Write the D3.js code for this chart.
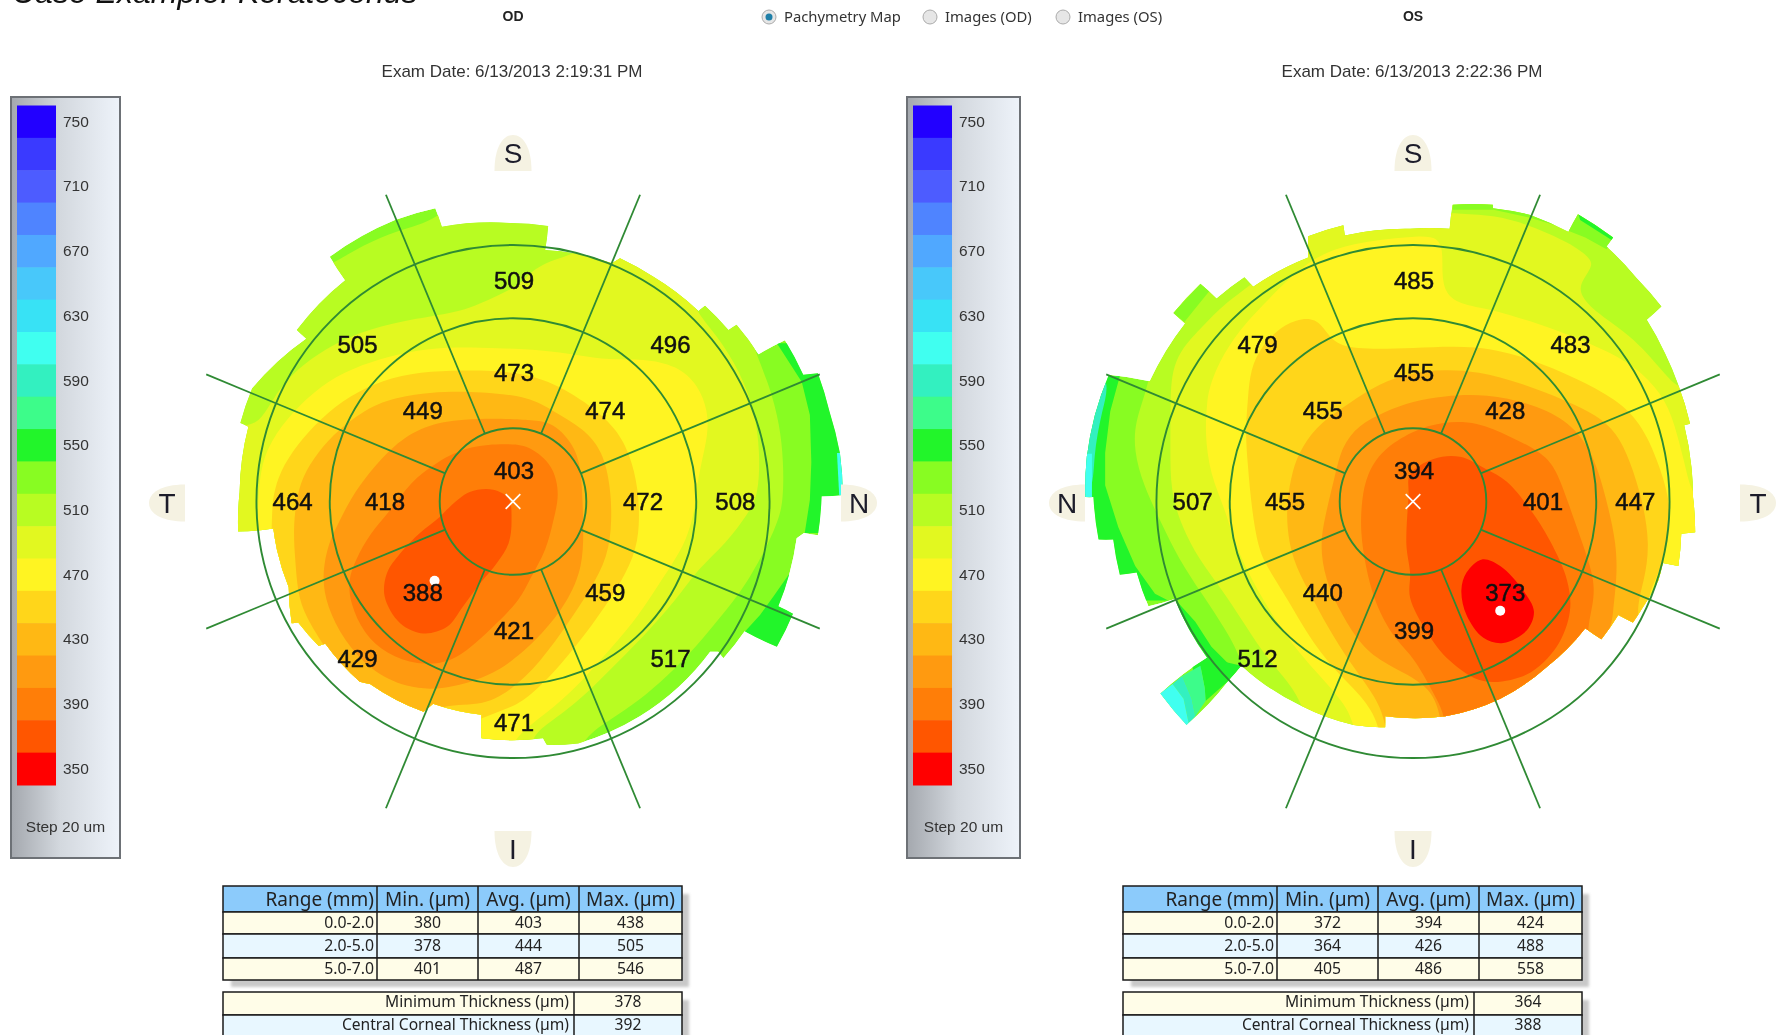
<!DOCTYPE html>
<html>
<head>
<meta charset="utf-8">
<script src="https://cdn.jsdelivr.net/npm/d3@7"></script>
<style>
  html, body { margin: 0; padding: 0; background: #fff; overflow: hidden; }
  svg { display: block; font-family: "Liberation Sans", Arial, sans-serif; filter: blur(0.55px); }
  .tbl text { font-family: "Noto Sans", sans-serif; fill: #222; }
</style>
</head>
<body>
<div id="chart"></div>
<script>
// thickness legend, top to bottom
var levels = [750,730,710,690,670,650,630,610,590,570,550,530,510,490,470,450,430,410,390,370,350];
var levelColors = ["#2200ff","#3a3aff","#4d5cff","#4f84ff","#50a8ff","#48c8fa","#38e2f5","#40fff0","#33f0c0","#3dfc8a","#22f52a","#88fc22","#b8fc22","#e2f820","#fff422","#ffd61a","#ffb814","#ff9a10","#ff7e08","#ff5600","#ff0000"];
var levelTicks = [750,710,670,630,590,550,510,470,430,390,350];

// sector values, clockwise from superior
var odCenter = 403;
var odMiddle = [473,474,472,459,421,388,418,449];
var odOuter  = [509,496,508,517,471,429,464,505];
var osCenter = 394;
var osMiddle = [455,428,401,373,399,440,455,455];
var osOuter  = [485,483,447,null,null,512,507,479];

// lowest point, mm from apex
var odMin = [-1.07,-1.08];
var osMin = [1.19,-1.49];

var tableHead = ["Range (mm)","Min. (µm)","Avg. (µm)","Max. (µm)"];
var ranges = ["0.0-2.0","2.0-5.0","5.0-7.0"];
var odTable = [[380,403,438],[378,444,505],[401,487,546]];
var osTable = [[372,394,424],[364,426,488],[405,486,558]];
var summaryNames = ["Minimum Thickness (µm)","Central Corneal Thickness (µm)"];
var odSummary = [378,392];
var osSummary = [364,388];

// measured edge of the map, [x mm, y mm], clockwise
var odEdge = [[-0.04,3.80],[0.48,3.76],[0.44,3.43],[0.87,3.38],[1.35,3.25],[1.46,3.32],[1.91,3.07],[2.53,2.60],[2.62,2.67],[2.94,2.34],[3.05,2.41],[3.35,2.01],[3.71,2.20],[3.96,1.73],[4.16,1.75],[4.32,1.22],[4.46,0.66],[4.50,0.09],[4.21,0.07],[4.16,-0.46],[3.97,-0.43],[3.87,-0.50],[3.62,-1.43],[3.82,-1.53],[3.60,-1.98],[3.16,-1.77],[2.87,-2.14],[2.80,-2.05],[2.69,-2.05],[1.73,-2.93],[0.89,-3.30],[0.46,-3.32],[0.41,-3.23],[-0.43,-3.23],[-0.43,-2.91],[-1.09,-2.76],[-1.22,-2.87],[-1.95,-2.49],[-2.09,-2.46],[-2.56,-1.94],[-2.65,-1.97],[-2.93,-1.65],[-3.02,-1.66],[-3.06,-1.17],[-3.22,-0.66],[-3.27,-0.37],[-3.75,-0.41],[-3.73,0.13],[-3.61,1.02],[-3.72,1.07],[-3.56,1.54],[-2.82,2.22],[-2.95,2.34],[-2.29,3.02],[-2.50,3.34],[-1.61,3.84],[-1.06,4.00],[-0.97,3.75]];
var osEdge = [[-0.04,3.72],[0.50,3.72],[0.54,4.05],[1.09,4.05],[1.09,4.00],[1.60,3.91],[2.12,3.68],[2.25,3.92],[2.73,3.60],[2.64,3.48],[3.05,3.05],[3.39,2.66],[3.19,2.48],[3.44,2.02],[3.62,1.59],[3.78,1.06],[3.70,1.04],[3.80,0.46],[3.82,0.06],[3.85,-0.42],[3.66,-0.44],[3.62,-0.88],[3.41,-0.84],[3.35,-1.07],[3.10,-1.50],[3.00,-1.65],[2.80,-1.55],[2.57,-1.88],[2.35,-1.73],[1.82,-2.26],[1.19,-2.69],[0.44,-2.93],[-0.38,-2.93],[-0.38,-3.08],[-0.45,-3.08],[-0.81,-3.05],[-1.52,-2.79],[-2.34,-2.24],[-2.52,-2.45],[-3.09,-3.05],[-3.45,-2.62],[-2.81,-2.13],[-3.25,-1.33],[-3.61,-1.43],[-3.77,-0.97],[-4.00,-1.00],[-4.09,-0.52],[-4.29,-0.52],[-4.36,0.06],[-4.47,0.06],[-4.45,0.61],[-4.34,1.18],[-4.15,1.73],[-3.59,1.64],[-3.11,2.43],[-3.27,2.57],[-2.90,2.97],[-2.68,2.77],[-2.30,3.06],[-2.18,2.93],[-1.43,3.33],[-1.43,3.62],[-0.95,3.77],[-0.93,3.63]];

// OD contours in mm. Each holds everything at or under its level
var od610a = [[4.42,0.66],[4.7,0.66],[4.7,0.09],[4.45,0.09]];
var od550a = [[3.60,2.16],[3.94,1.63],[4.05,1.18],[4.07,0.54],[4.05,0.02],[3.98,-0.43],[4.7,-0.43],[4.7,2.16]];
var od550b = [[3.14,-1.80],[3.37,-1.55],[3.55,-1.30],[3.76,-1.00],[4.05,-1.00],[4.05,-2.02],[3.60,-2.07]];
var od510 = [[-4.3,1.9],[-2.6,3.2],[-2.45,3.25],[-2.04,3.50],[-1.59,3.70],[-1.02,3.83],[-0.5,4.4],[1.5,4.4],[2.9,3.2],[3.32,2.00],[3.50,1.58],[3.64,1.05],[3.69,0.55],[3.69,0],[3.60,-0.34],[3.23,-1.07],[2.87,-1.53],[2.50,-1.98],[2.10,-2.39],[1.73,-2.71],[1.32,-2.98],[0.91,-3.25],[0.8,-3.8],[-4.3,-3.8]];
var od490 = [[-4.3,1.0],[-3.65,1.02],[-3.45,1.09],[-3.27,1.41],[-3.00,1.77],[-2.50,2.13],[-1.95,2.36],[-1.31,2.50],[-0.72,2.59],[-0.40,2.72],[0.10,2.95],[0.23,3.13],[0.50,3.29],[0.87,3.38],[1.4,3.7],[2.2,3.2],[2.48,2.61],[2.78,2.27],[3.10,1.77],[3.30,1.22],[3.37,0.68],[3.35,0.09],[3.21,-0.16],[2.91,-0.57],[2.51,-0.93],[2.23,-1.34],[1.78,-1.84],[1.32,-2.30],[0.87,-2.75],[0.41,-3.07],[0.23,-3.25],[0.2,-3.8],[-4.3,-3.8]];
var od470 = [[-3.50,-0.6],[-3.47,0.32],[-3.36,0.73],[-3.09,1.13],[-2.72,1.50],[-2.31,1.77],[-1.81,1.95],[-1.31,2.07],[-0.77,2.11],[-0.22,2.09],[0.41,2.07],[0.87,2.00],[1.32,1.93],[1.78,1.95],[2.23,1.86],[2.53,1.59],[2.66,1.23],[2.66,0.91],[2.57,0.54],[2.49,0.09],[2.48,-0.12],[2.37,-0.52],[2.18,-0.84],[1.91,-1.25],[1.64,-1.66],[1.23,-2.12],[0.87,-2.53],[0.46,-2.89],[-0.04,-3.25],[-0.1,-3.7],[-3.5,-3.7]];
var od450 = [[-3.3,-3.2],[-3.3,-0.2],[-3.27,0.09],[-3.18,0.41],[-2.95,0.77],[-2.63,1.13],[-2.22,1.45],[-1.77,1.66],[-1.27,1.77],[-0.68,1.79],[-0.22,1.79],[0.41,1.70],[1.00,1.36],[1.41,1.00],[1.60,0.63],[1.71,0.18],[1.73,-0.34],[1.66,-0.75],[1.41,-1.21],[1.10,-1.66],[0.64,-2.25],[0.23,-2.66],[-0.04,-2.82],[-0.43,-2.95],[-1,-3.2]];
var od430 = [[-3.00,-0.39],[-2.95,0.09],[-2.84,0.41],[-2.59,0.77],[-2.31,1.04],[-1.86,1.36],[-1.31,1.47],[-0.95,1.50],[-0.45,1.50],[0.23,1.43],[0.55,1.23],[0.96,1.00],[1.23,0.68],[1.33,0.2],[1.35,-0.25],[1.30,-0.75],[1.05,-1.21],[0.78,-1.62],[0.37,-2.20],[-0.04,-2.59],[-0.45,-2.80],[-1.04,-2.75],[-1.3,-3.1],[-2.0,-2.8],[-2.61,-1.93],[-2.77,-1.66],[-2.93,-1.34],[-2.97,-0.80]];
var od410 = [[-2.52,-0.57],[-2.40,-0.34],[-2.22,0.04],[-1.95,0.41],[-1.63,0.77],[-1.22,1.04],[-0.68,1.13],[-0.04,1.13],[0.23,1.11],[0.55,1.09],[0.87,0.73],[0.94,0.32],[0.96,-0.30],[0.96,-0.89],[0.73,-1.39],[0.41,-1.80],[-0.04,-2.21],[-0.40,-2.41],[-0.95,-2.57],[-1.45,-2.55],[-1.95,-2.30],[-2.31,-1.89],[-2.54,-1.43],[-2.61,-1.02]];
var od390 = [[-2.25,-1.07],[-2.15,-0.80],[-1.95,-0.43],[-1.68,-0.14],[-1.40,0.27],[-1.04,0.54],[-0.59,0.77],[0,0.79],[0.23,0.75],[0.55,0.50],[0.64,0.09],[0.55,-0.25],[0.46,-0.66],[0.23,-1.05],[0.10,-1.34],[-0.22,-1.66],[-0.50,-1.93],[-0.86,-2.21],[-1.31,-2.23],[-1.72,-2.09],[-2.04,-1.80],[-2.22,-1.39]];
var od370 = [[-0.86,-0.07],[-0.59,0.13],[-0.27,0.16],[-0.06,0.04],[-0.02,-0.25],[-0.06,-0.57],[-0.22,-0.84],[-0.45,-1.12],[-0.68,-1.43],[-0.90,-1.71],[-1.22,-1.80],[-1.54,-1.66],[-1.75,-1.30],[-1.72,-0.98],[-1.54,-0.71],[-1.27,-0.43],[-1.00,-0.21]];

// OS contours
var os550a = [[-4.00,1.71],[-4.13,1.23],[-4.20,0.66],[-4.20,0.22],[-4.02,-0.35],[-3.79,-0.88],[-3.52,-1.26],[-3.34,-1.35],[-4.8,-1.35],[-4.8,1.71]];
var os590a = [[-4.36,0.06],[-4.36,0.61],[-4.25,1.23],[-4.09,1.75],[-4.7,1.9],[-4.7,0.06]];
var os610a = [[-4.7,0.06],[-4.38,0.06],[-4.38,0.65],[-4.7,0.65]];
var os550d = [[-3.25,-1.33],[-2.97,-1.64],[-2.75,-1.98],[-2.47,-2.26],[-3.0,-2.3]];
var os550b = [[-2.90,-2.24],[-2.81,-2.13],[-2.34,-2.24],[-2.52,-2.45],[-2.83,-2.72],[-2.84,-2.55]];
var os570b = [[-3.15,-2.38],[-2.90,-2.24],[-2.84,-2.55],[-2.83,-2.72],[-2.97,-2.93],[-3.02,-2.69]];
var os590b = [[-3.28,-2.49],[-3.15,-2.38],[-3.02,-2.69],[-2.97,-2.93],[-3.06,-3.03],[-3.13,-2.69]];
var os610b = [[-3.45,-2.62],[-3.28,-2.49],[-3.13,-2.69],[-3.06,-3.03],[-3.09,-3.08]];
var os510 = [[-3.65,1.47],[-3.55,1.9],[-3.4,2.6],[-2.6,3.6],[-1.0,4.3],[4.6,4.3],[4.6,-3.8],[-1.9,-3.8],[-2.29,-2.22],[-2.56,-1.74],[-2.88,-1.26],[-3.20,-0.78],[-3.43,-0.30],[-3.68,0.22],[-3.81,0.70],[-3.79,1.09]];
var os530a = [[2.10,3.70],[2.25,3.95],[2.80,3.62],[2.64,3.44],[2.35,3.60]];
var os550c = [[2.25,3.95],[2.78,3.66],[2.72,3.56],[2.28,3.84]];
var os530b = [[-3.27,2.57],[-2.90,2.97],[-2.78,2.87],[-3.12,2.45]];
var os530c = [[0.54,4.1],[1.1,4.1],[1.6,3.95],[2.1,3.72],[1.6,3.87],[1.1,3.98],[0.54,3.98]];
var os490 = [[-3.31,0.75],[-3.31,1.33],[-3.29,1.95],[-2.88,2.38],[-2.56,2.71],[-2.15,3.00],[-1.43,3.57],[-1.43,3.8],[0.4,3.95],[0.55,3.93],[1.10,3.91],[1.60,3.77],[2.14,3.53],[2.44,3.31],[2.44,3.19],[2.28,2.98],[2.28,2.81],[2.51,2.57],[2.87,2.33],[3.14,2.09],[3.46,1.71],[3.64,1.52],[4.3,1.4],[4.3,-3.8],[-1.3,-3.5],[-1.52,-2.65],[-1.93,-2.22],[-2.20,-1.83],[-2.56,-1.26],[-2.93,-0.78],[-3.15,-0.35],[-3.31,0.13]];
var os470 = [[-2.81,1.33],[-2.79,1.52],[-2.65,1.90],[-2.38,2.33],[-2.02,2.71],[-1.43,3.31],[-0.84,3.53],[0,3.62],[0.37,3.62],[0.41,3.34],[0.39,2.95],[0.55,2.71],[0.96,2.64],[1.42,2.52],[2.05,2.31],[2.69,2.04],[3.14,1.76],[3.46,1.37],[3.60,0.94],[3.73,0.42],[3.82,0.03],[4.3,-0.3],[4.3,-3.8],[-0.7,-3.8],[-0.79,-2.98],[-1.02,-2.65],[-1.47,-2.17],[-1.84,-1.69],[-2.20,-1.07],[-2.43,-0.59],[-2.56,-0.11],[-2.77,0.37],[-2.84,0.94]];
var os450 = [[-2.25,1.42],[-2.22,1.80],[-2.06,2.14],[-1.75,2.43],[-1.43,2.52],[-1.25,2.43],[-1.11,2.19],[-0.84,2.07],[0,2.09],[0.87,2.14],[1.60,1.95],[2.23,1.68],[2.77,1.40],[3.14,1.04],[3.39,0.42],[3.53,-0.11],[3.48,-0.59],[3.32,-1.07],[3.14,-1.40],[3.5,-2.0],[1,-3.8],[-0.4,-3.6],[-0.45,-3.03],[-0.70,-2.65],[-1.11,-2.26],[-1.43,-1.83],[-1.70,-1.35],[-2.00,-0.88],[-2.11,-0.64],[-2.20,-0.11],[-2.25,0.46],[-2.29,0.94]];
var os430 = [[-1.65,0.42],[-1.52,0.75],[-1.25,1.09],[-0.88,1.33],[-0.47,1.61],[0,1.76],[0.41,1.80],[0.87,1.78],[1.50,1.61],[2.10,1.37],[2.50,1.18],[2.78,0.94],[2.96,0.56],[3.14,-0.01],[3.23,-0.59],[3.16,-1.07],[3.00,-1.59],[3.3,-2.3],[1,-3.8],[-0.3,-3.6],[-0.38,-2.93],[-0.56,-2.60],[-0.88,-2.17],[-1.15,-1.74],[-1.43,-1.21],[-1.65,-0.78],[-1.72,-0.35],[-1.72,-0.01]];
var os410 = [[-1.06,0.37],[-0.97,0.75],[-0.75,1.04],[-0.38,1.23],[0,1.37],[0.41,1.44],[1.00,1.47],[1.64,1.33],[2.14,1.09],[2.46,0.66],[2.64,0.03],[2.78,-0.59],[2.78,-1.07],[2.73,-1.45],[2.69,-2.0],[1,-3.8],[0.45,-3.6],[0.39,-2.93],[0.23,-2.50],[-0.38,-2.22],[-0.70,-1.98],[-0.97,-1.55],[-1.20,-1.07],[-1.27,-0.59],[-1.20,-0.20]];
var os390 = [[-0.70,0.03],[-0.63,0.37],[-0.43,0.70],[0,0.97],[0.41,1.09],[0.87,1.09],[1.32,0.89],[1.78,0.66],[1.96,0.42],[2.10,0.03],[2.32,-0.59],[2.48,-1.07],[2.46,-1.40],[2.37,-1.74],[2.4,-2.3],[1.3,-3.2],[0.44,-3.3],[0.44,-2.93],[0.32,-2.69],[0.14,-2.36],[0,-2.12],[-0.25,-1.88],[-0.52,-1.40],[-0.65,-0.88],[-0.72,-0.40]];
var os370 = [[-0.04,0.37],[0.28,0.58],[0.64,0.61],[1.00,0.44],[1.28,0.27],[1.60,-0.11],[1.87,-0.54],[2.10,-1.07],[2.14,-1.50],[1.96,-1.98],[1.55,-2.36],[0.96,-2.45],[0.50,-2.17],[0.19,-1.78],[-0.04,-1.31],[-0.04,-0.97],[-0.09,-0.59],[-0.06,0.08]];
var os350 = [[0.94,-0.79],[1.19,-0.88],[1.50,-1.21],[1.65,-1.50],[1.55,-1.76],[1.23,-1.93],[0.96,-1.86],[0.73,-1.55],[0.66,-1.21],[0.73,-0.97]];

var W = 1779, H = 1035;
var MM = 73.3;  // px per mm on the map

var svg = d3.select("#chart").append("svg").attr("width", W).attr("height", H);
var defs = svg.append("defs");

var color = d3.scaleOrdinal().domain(levels).range(levelColors);

// gradient of the legend panel
var grad = defs.append("linearGradient").attr("id", "panelFill");
grad.append("stop").attr("offset", "0%").attr("stop-color", "#a4a8ae");
grad.append("stop").attr("offset", "45%").attr("stop-color", "#d3d8de");
grad.append("stop").attr("offset", "100%").attr("stop-color", "#eef3fa");

// page furniture
svg.append("text").attr("x", 12).attr("y", 3)
    .style("font-size", "32px").style("font-style", "italic").style("fill", "#111")
    .text("Case Example: Keratoconus");

var radios = [
  {label: "Pachymetry Map", cx: 769, on: true},
  {label: "Images (OD)", cx: 930, on: false},
  {label: "Images (OS)", cx: 1063, on: false}
];
radios.forEach(function(r) {
  svg.append("circle").attr("cx", r.cx).attr("cy", 17).attr("r", 7)
      .style("fill", "#e6e6e6").style("stroke", "#aaa");
  if (r.on) svg.append("circle").attr("cx", r.cx).attr("cy", 17).attr("r", 3.5).style("fill", "#1f7fa8");
  svg.append("text").attr("x", r.cx + 15).attr("y", 22)
      .style("font-family", "'Noto Sans'").style("font-size", "14.8px").style("fill", "#333")
      .text(r.label);
});

function drawLegend(x0, x1) {
  var g = svg.append("g");
  g.append("rect").attr("x", x0).attr("y", 97).attr("width", x1 - x0).attr("height", 761)
      .style("fill", "url(#panelFill)").style("stroke", "#6d7176").style("stroke-width", 2);

  var band = d3.scaleBand().domain(levels).range([105.5, 785]);
  g.selectAll("rect.swatch").data(levels).enter().append("rect")
      .attr("class", "swatch")
      .attr("x", x0 + 6).attr("width", 39)
      .attr("y", function(d) { return band(d); })
      .attr("height", band.bandwidth() + 0.5)
      .style("fill", function(d) { return color(d); });

  var axis = g.append("g").attr("transform", "translate(" + (x0 + 45) + ",0)")
      .call(d3.axisRight(band).tickValues(levelTicks).tickSize(0).tickPadding(7));
  axis.select(".domain").remove();
  axis.selectAll("text").style("font-family", "'Liberation Sans'").style("font-size", "15.5px").style("fill", "#333");

  g.append("text").attr("x", (x0 + x1) / 2).attr("y", 832).attr("text-anchor", "middle")
      .style("font-size", "15.5px").style("fill", "#333").text("Step 20 um");
}

// tab behind a direction letter; side is where the round end points
function drawTab(g, x, y, side, letter) {
  var rot = {S: 0, N: 90, I: 180, T: 270}[side];
  g.append("path")
      .attr("transform", "translate(" + x + "," + y + ") rotate(" + rot + ")")
      .attr("d", "M-18.5,18 C-18.5,-6 -10,-18 0,-18 C10,-18 18.5,-6 18.5,18 Z")
      .style("fill", "#f5f2e2");
  g.append("text").attr("x", x).attr("y", y + 10).attr("text-anchor", "middle")
      .style("font-size", "28px").style("fill", "#1c1c2a").text(letter);
}

function drawEye(opt) {
  var x = d3.scaleLinear().domain([-1, 1]).range([opt.cx - MM, opt.cx + MM]);
  var y = d3.scaleLinear().domain([-1, 1]).range([opt.cy + MM, opt.cy - MM]);
  var r = d3.scaleLinear().domain([0, 1]).range([0, MM]);

  var smooth = d3.line().x(function(d) { return x(d[0]); }).y(function(d) { return y(d[1]); })
      .curve(d3.curveBasisClosed);
  var tight = d3.line().x(function(d) { return x(d[0]); }).y(function(d) { return y(d[1]); })
      .curve(d3.curveCatmullRomClosed.alpha(0.5));
  var flat = d3.line().x(function(d) { return x(d[0]); }).y(function(d) { return y(d[1]); })
      .curve(d3.curveLinearClosed);

  // map edge: each step runs as an arc about the apex
  function edgePath(pts) {
    var s = "M" + x(pts[0][0]) + "," + y(pts[0][1]);
    pts.concat([pts[0]]).slice(1).forEach(function(d, i) {
      var prev = pts[i];
      var rad = r((Math.hypot(d[0], d[1]) + Math.hypot(prev[0], prev[1])) / 2);
      s += "A" + rad + "," + rad + " 0 0 1 " + x(d[0]) + "," + y(d[1]);
    });
    return s + "Z";
  }

  var g = svg.append("g");

  defs.append("clipPath").attr("id", opt.id + "Clip").append("path").attr("d", edgePath(opt.edge));

  var map = g.append("g").attr("clip-path", "url(#" + opt.id + "Clip)");
  map.append("path").attr("d", edgePath(opt.edge)).style("fill", color(530));
  opt.bands.forEach(function(b) {
    var shape = b.flat ? flat : (b.tight ? tight : smooth);
    map.append("path").attr("d", shape(b.pts)).style("fill", color(b.level));
  });

  // rings at 2, 5 and 7 mm diameter
  g.selectAll("circle.ring").data([1, 2.5, 3.5]).enter().append("circle")
      .attr("class", "ring")
      .attr("cx", opt.cx).attr("cy", opt.cy)
      .attr("r", function(d) { return r(d); })
      .style("fill", "none").style("stroke", "#2f8a34").style("stroke-width", 1.9);

  // spokes
  var angles = d3.range(8).map(function(i) { return (22.5 + 45 * i) * Math.PI / 180; });
  angles.forEach(function(a) {
    var p0 = d3.pointRadial(a, r(1));
    var p1 = d3.pointRadial(a, r(4.53));
    g.append("line")
        .attr("x1", opt.cx + p0[0]).attr("y1", opt.cy + p0[1])
        .attr("x2", opt.cx + p1[0]).attr("y2", opt.cy + p1[1])
        .style("stroke", "#2f8a34").style("stroke-width", 1.8);
  });

  // centre cross and lowest point
  [[-0.1, 0.1, 0.1, -0.1], [-0.1, -0.1, 0.1, 0.1]].forEach(function(c) {
    g.append("line").attr("x1", x(c[0])).attr("y1", y(c[1])).attr("x2", x(c[2])).attr("y2", y(c[3]))
        .style("stroke", "#fff").style("stroke-width", 1.6);
  });
  g.append("circle").attr("cx", x(opt.low[0])).attr("cy", y(opt.low[1])).attr("r", 5).style("fill", "#fff");

  // sector numbers
  function sectorLabel(val, i, mm) {
    if (val === null) return;
    var p = d3.pointRadial(i * Math.PI / 4, r(mm));
    g.append("text").attr("x", opt.cx + p[0] + 1).attr("y", opt.cy + p[1] + 8.5)
        .attr("text-anchor", "middle")
        .style("font-size", "24px").style("fill", "#111").style("stroke", "#111").style("stroke-width", 0.5)
        .text(val);
  }
  opt.middle.forEach(function(v, i) { sectorLabel(v, i, 1.76); });
  opt.outer.forEach(function(v, i) { sectorLabel(v, i, 3.02); });
  sectorLabel(opt.center, 0, 0.42);

  drawTab(g, opt.cx, 153, "S", "S");
  drawTab(g, opt.cx, 849, "I", "I");
  drawTab(g, opt.leftTab, 503, "T", opt.leftLetter);
  drawTab(g, opt.rightTab, 503, "N", opt.rightLetter);

  svg.append("text").attr("x", opt.cx).attr("y", 21).attr("text-anchor", "middle")
      .style("font-size", "14px").style("font-weight", "bold").style("fill", "#222").text(opt.name);
  svg.append("text").attr("x", opt.cx - 1).attr("y", 77).attr("text-anchor", "middle")
      .style("font-size", "17px").style("fill", "#333").text(opt.exam);
}

function drawTables(dx, rows, summary) {
  var g = svg.append("g").attr("class", "tbl").attr("transform", "translate(" + dx + ",1)");
  var cols = [223, 377, 478, 579, 682];
  var rowY = [885, 911, 933, 957, 979];
  var sumY = [991, 1014, 1037];
  var sumCols = [223, 574, 682];

  g.append("rect").attr("x", 231).attr("y", 893).attr("width", 458).attr("height", 93)
      .style("fill", "#c8c8c8").style("filter", "blur(1.5px)");
  g.append("rect").attr("x", 231).attr("y", 999).attr("width", 458).attr("height", 40)
      .style("fill", "#c8c8c8").style("filter", "blur(1.5px)");

  var fills = ["#8ccbfb", "#fffde8", "#e8f7ff", "#fffde8"];
  fills.forEach(function(f, i) {
    g.append("rect").attr("x", cols[0]).attr("y", rowY[i]).attr("width", cols[4] - cols[0]).attr("height", rowY[i + 1] - rowY[i])
        .style("fill", f).style("stroke", "#1a1a1a").style("stroke-width", 1.5);
  });
  cols.slice(1, 4).forEach(function(cx) {
    g.append("line").attr("x1", cx).attr("x2", cx).attr("y1", rowY[0]).attr("y2", rowY[4])
        .style("stroke", "#1a1a1a").style("stroke-width", 1.5);
  });

  tableHead.forEach(function(t, i) {
    g.append("text").attr("x", i === 0 ? cols[1] - 3 : (cols[i] + cols[i + 1]) / 2).attr("y", 905)
        .attr("text-anchor", i === 0 ? "end" : "middle").style("font-size", "19px").text(t);
  });
  ranges.forEach(function(t, i) {
    var ty = (rowY[i + 1] + rowY[i + 2]) / 2 + 4.5;
    g.append("text").attr("x", cols[1] - 3).attr("y", ty).attr("text-anchor", "end").style("font-size", "15.8px").text(t);
    rows[i].forEach(function(v, j) {
      g.append("text").attr("x", (cols[j + 1] + cols[j + 2]) / 2).attr("y", ty).attr("text-anchor", "middle")
          .style("font-size", "15.8px").text(v);
    });
  });

  summaryNames.forEach(function(t, i) {
    g.append("rect").attr("x", sumCols[0]).attr("y", sumY[i]).attr("width", sumCols[2] - sumCols[0]).attr("height", sumY[i + 1] - sumY[i])
        .style("fill", fills[i + 1]).style("stroke", "#1a1a1a").style("stroke-width", 1.5);
    var ty = (sumY[i] + sumY[i + 1]) / 2 + 3.5;
    g.append("text").attr("x", sumCols[1] - 5).attr("y", ty).attr("text-anchor", "end").style("font-size", "15.6px").text(t);
    g.append("text").attr("x", (sumCols[1] + sumCols[2]) / 2).attr("y", ty).attr("text-anchor", "middle").style("font-size", "15.6px").text(summary[i]);
  });
  g.append("line").attr("x1", sumCols[1]).attr("x2", sumCols[1]).attr("y1", sumY[0]).attr("y2", sumY[2])
      .style("stroke", "#1a1a1a").style("stroke-width", 1.5);
}

drawLegend(11, 120);
drawLegend(907, 1020);

drawEye({
  id: "od", name: "OD", exam: "Exam Date: 6/13/2013 2:19:31 PM",
  cx: 513, cy: 501.5, edge: odEdge, low: odMin,
  center: odCenter, middle: odMiddle, outer: odOuter,
  leftTab: 167, leftLetter: "T", rightTab: 859, rightLetter: "N",
  bands: [
    {level: 550, pts: od550a, flat: true}, {level: 610, pts: od610a, flat: true}, {level: 550, pts: od550b, flat: true},
    {level: 510, pts: od510}, {level: 490, pts: od490}, {level: 470, pts: od470},
    {level: 450, pts: od450}, {level: 430, pts: od430}, {level: 410, pts: od410},
    {level: 390, pts: od390}, {level: 370, pts: od370, tight: true}
  ]
});

drawEye({
  id: "os", name: "OS", exam: "Exam Date: 6/13/2013 2:22:36 PM",
  cx: 1413, cy: 501.5, edge: osEdge, low: osMin,
  center: osCenter, middle: osMiddle, outer: osOuter,
  leftTab: 1067, leftLetter: "N", rightTab: 1758, rightLetter: "T",
  bands: [
    {level: 550, pts: os550a, flat: true}, {level: 590, pts: os590a}, {level: 610, pts: os610a, flat: true},
    {level: 550, pts: os550d, flat: true}, {level: 550, pts: os550b, flat: true}, {level: 570, pts: os570b, flat: true}, {level: 590, pts: os590b, flat: true}, {level: 610, pts: os610b, flat: true},
    {level: 510, pts: os510}, {level: 530, pts: os530a, flat: true}, {level: 530, pts: os530b, flat: true}, {level: 530, pts: os530c, flat: true},
    {level: 550, pts: os550c, flat: true},
    {level: 490, pts: os490}, {level: 470, pts: os470},
    {level: 450, pts: os450}, {level: 430, pts: os430}, {level: 410, pts: os410},
    {level: 390, pts: os390}, {level: 370, pts: os370, tight: true}, {level: 350, pts: os350, tight: true}
  ]
});

drawTables(0, odTable, odSummary);
drawTables(900, osTable, osSummary);
</script>
</body>
</html>
